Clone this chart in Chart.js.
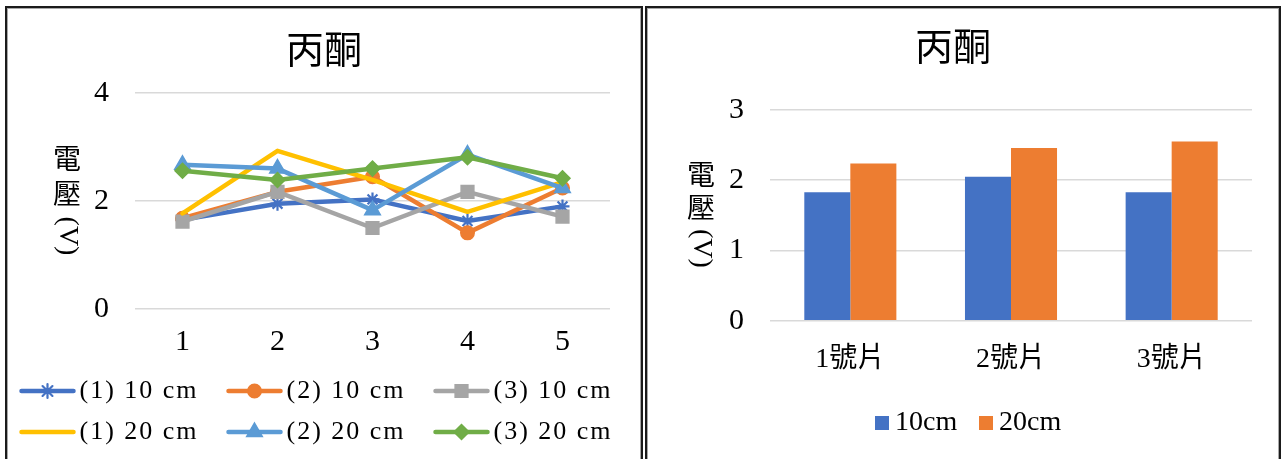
<!DOCTYPE html>
<html lang="zh-Hant">
<head>
<meta charset="utf-8">
<title>丙酮</title>
<script src="https://cdn.jsdelivr.net/npm/chart.js@4.4.1/dist/chart.umd.min.js"></script>
<style>
  html, body { margin: 0; padding: 0; background: #fff; width: 1282px; height: 459px; overflow: hidden; }
  .panel { position: absolute; top: 6px; height: 480px; border: 2px solid #1b1b1b; border-bottom: none; }
  .panel .inner { height: 100%; border: 1px solid #a8a8a8; border-bottom: none; }
  #p1 { left: 5px; width: 634px; }
  #p2 { left: 645px; width: 632px; }
  canvas { display: block; }
</style>
</head>
<body>
<div class="panel" id="p1"><div class="inner"><canvas id="lineChart" width="632" height="450"></canvas></div></div>
<div class="panel" id="p2"><div class="inner"><canvas id="barChart" width="630" height="450"></canvas></div></div>
<script>
// ---- data ----
const chartTitle = '丙酮';
const yAxisTitle = '電壓(V)';

const trialLabels = ['1', '2', '3', '4', '5'];
const lineTicks = [0, 2, 4];
const seriesNames = ['(1) 10 cm', '(2) 10 cm', '(3) 10 cm', '(1) 20 cm', '(2) 20 cm', '(3) 20 cm'];
const piece1At10 = [1.65, 1.95, 2.03, 1.63, 1.90];
const piece2At10 = [1.68, 2.17, 2.45, 1.41, 2.24];
const piece3At10 = [1.62, 2.17, 1.50, 2.17, 1.71];
const piece1At20 = [1.77, 2.93, 2.39, 1.80, 2.35];
const piece2At20 = [2.67, 2.60, 1.83, 2.86, 2.24];
const piece3At20 = [2.56, 2.39, 2.60, 2.81, 2.42];

const pieceLabels = ['1號片', '2號片', '3號片'];
const barTicks = [0, 1, 2, 3];
const barNames = ['10cm', '20cm'];
const mean10 = [1.83, 2.05, 1.83];
const mean20 = [2.24, 2.46, 2.55];

// ---- styling ----
const FONT = "'Liberation Serif', 'Noto Sans CJK TC', serif";
const INK = '#000';
const GRID = '#d9d9d9';
Chart.defaults.font.family = FONT;
Chart.defaults.color = INK;

// Vertical axis title: CJK characters upright, Latin runs turned clockwise.
const verticalTitle = {
  id: 'verticalTitle',
  afterDraw(chart, args, o) {
    const text = chart.options.scales.y.title.text;
    const ctx = chart.ctx, a = chart.chartArea;
    ctx.save();
    ctx.font = o.size + 'px ' + FONT;
    ctx.fillStyle = INK;
    const parts = [];
    for (const ch of text) {
      const cjk = /[\u2e80-\u9fff\uf900-\ufaff\uff00-\uffef]/.test(ch);
      const last = parts[parts.length - 1];
      if (!cjk && last && !last.cjk) last.text += ch;
      else parts.push({ text: ch, cjk });
    }
    parts.forEach(p => { p.len = p.cjk ? o.step : ctx.measureText(p.text).width + 2 * o.runPad; });
    const total = parts.reduce((s, p) => s + p.len, 0);
    const x = a.left - o.offset;
    let y = (a.top + a.bottom) / 2 - total / 2 + (o.shift || 0);
    ctx.textBaseline = 'middle';
    parts.forEach(p => {
      if (p.cjk) {
        ctx.textAlign = 'center';
        ctx.fillText(p.text, x, y + p.len / 2);
      } else {
        ctx.save();
        ctx.translate(x, y + o.runPad);
        ctx.rotate(Math.PI / 2);
        ctx.textAlign = 'left';
        ctx.fillText(p.text, 0, 0);
        ctx.restore();
      }
      y += p.len;
    });
    ctx.restore();
  }
};

// Series key drawn in a fixed grid under the plot.
const seriesKey = {
  id: 'seriesKey',
  afterDraw(chart, args, o) {
    const ctx = chart.ctx;
    ctx.save();
    ctx.font = o.fontSize + 'px ' + FONT;
    ctx.textBaseline = 'middle';
    ctx.textAlign = 'left';
    chart.data.datasets.forEach((ds, i) => {
      const col = i % o.columns, row = Math.floor(i / o.columns);
      const x = o.left + col * o.colStep;
      const y = o.top + row * o.rowStep;
      let textX;
      if (o.kind === 'line') {
        ctx.strokeStyle = ds.borderColor;
        ctx.lineWidth = ds.borderWidth;
        ctx.lineCap = 'round';
        ctx.beginPath();
        ctx.moveTo(x + 2, y);
        ctx.lineTo(x + o.symbolWidth - 2, y);
        ctx.stroke();
        if (ds.pointRadius > 0) {
          ctx.fillStyle = ds.pointBackgroundColor;
          ctx.strokeStyle = ds.pointBorderColor;
          ctx.lineWidth = ds.pointBorderWidth;
          Chart.helpers.drawPoint(ctx, {
            pointStyle: ds.pointStyle, radius: ds.pointRadius,
            borderWidth: ds.pointBorderWidth, rotation: 0
          }, x + o.symbolWidth / 2, y);
        }
        textX = x + o.symbolWidth + o.gap;
      } else {
        ctx.fillStyle = ds.backgroundColor;
        ctx.fillRect(x, y - o.box / 2, o.box, o.box);
        textX = x + o.box + o.gap;
      }
      ctx.fillStyle = INK;
      if (o.letterSpacing) ctx.letterSpacing = o.letterSpacing;
      ctx.fillText(ds.label, textX, y);
      if (o.letterSpacing) ctx.letterSpacing = '0px';
    });
    ctx.restore();
  }
};

const seriesData = [piece1At10, piece2At10, piece3At10, piece1At20, piece2At20, piece3At20];
const seriesColors = ['#4472C4', '#ED7D31', '#A5A5A5', '#FFC000', '#5B9BD5', '#70AD47'];
const seriesMarkers = ['star', 'circle', 'rect', false, 'triangle', 'rectRot'];
const markerRadius = [7, 6.75, 9, 0, 9, 7.5];

const lineDatasets = seriesNames.map((name, i) => ({
  label: name,
  data: seriesData[i],
  borderColor: seriesColors[i],
  backgroundColor: seriesColors[i],
  borderWidth: 4.5,
  borderJoinStyle: 'round',
  borderCapStyle: 'round',
  tension: 0,
  pointStyle: seriesMarkers[i] || 'circle',
  pointRadius: markerRadius[i],
  pointHoverRadius: markerRadius[i],
  pointBackgroundColor: seriesColors[i],
  pointBorderColor: seriesColors[i],
  pointBorderWidth: seriesMarkers[i] === 'star' ? 2.2 : 1.5,
  order: seriesNames.length - i
}));

new Chart(document.getElementById('lineChart'), {
  type: 'line',
  data: { labels: trialLabels, datasets: lineDatasets },
  options: {
    responsive: false,
    animation: false,
    layout: { padding: { left: 0, right: 0, top: 0, bottom: 84 } },
    plugins: {
      legend: { display: false },
      tooltip: { enabled: false },
      title: {
        display: true, text: chartTitle, color: INK,
        font: { family: FONT, size: 38, weight: 'normal' },
        padding: { top: 21.2, bottom: 17.2 }
      },
      verticalTitle: { size: 28, step: 35, runPad: 2, offset: 68 },
      seriesKey: {
        kind: 'line', columns: 3, left: 11.5, colStep: 207, top: 382, rowStep: 41,
        symbolWidth: 56, gap: 4, fontSize: 26, letterSpacing: '2px'
      }
    },
    scales: {
      x: {
        offset: true,
        grid: { display: false, drawTicks: false },
        border: { display: false },
        ticks: { color: INK, font: { family: FONT, size: 30 }, padding: 15 }
      },
      y: {
        min: 0, max: 4,
        afterBuildTicks: s => { s.ticks = lineTicks.map(v => ({ value: v })); },
        afterFit: s => { s.width = 127; },
        grid: { color: GRID, lineWidth: 1.5, drawTicks: false },
        border: { display: false },
        ticks: { color: INK, font: { family: FONT, size: 30 }, padding: 26 },
        title: { display: false, text: yAxisTitle }
      },
      gap: {
        type: 'linear', position: 'right', display: true,
        grid: { display: false, drawTicks: false },
        border: { display: false },
        ticks: { display: false },
        afterFit: s => { s.width = 30; }
      }
    }
  },
  plugins: [verticalTitle, seriesKey]
});

new Chart(document.getElementById('barChart'), {
  type: 'bar',
  data: {
    labels: pieceLabels,
    datasets: [
      { label: barNames[0], data: mean10, backgroundColor: '#4472C4' },
      { label: barNames[1], data: mean20, backgroundColor: '#ED7D31' }
    ]
  },
  options: {
    responsive: false,
    animation: false,
    categoryPercentage: 0.573,
    barPercentage: 1.0,
    layout: { padding: { left: 0, right: 20, top: 0, bottom: 59.7 } },
    plugins: {
      legend: { display: false },
      tooltip: { enabled: false },
      title: {
        display: true, text: chartTitle, color: INK,
        font: { family: FONT, size: 38, weight: 'normal' },
        padding: { top: 18.2, bottom: 37.2 }
      },
      verticalTitle: { size: 28, step: 33, runPad: 2, offset: 69 },
      seriesKey: {
        kind: 'box', columns: 2, left: 227, colStep: 104, top: 414, rowStep: 0,
        box: 14, gap: 6, fontSize: 28
      }
    },
    scales: {
      x: {
        grid: { display: false, drawTicks: false },
        border: { display: false },
        ticks: { color: INK, font: { family: FONT, size: 28 }, padding: 22.5 }
      },
      y: {
        min: 0, max: 3,
        afterBuildTicks: s => { s.ticks = barTicks.map(v => ({ value: v })); },
        afterFit: s => { s.width = 122; },
        grid: { color: GRID, lineWidth: 1.5, drawTicks: false },
        border: { display: false },
        ticks: { color: INK, font: { family: FONT, size: 30 }, padding: 26 },
        title: { display: false, text: yAxisTitle }
      },
      gap: {
        type: 'linear', position: 'right', display: true,
        grid: { display: false, drawTicks: false },
        border: { display: false },
        ticks: { display: false },
        afterFit: s => { s.width = 6; }
      }
    }
  },
  plugins: [verticalTitle, seriesKey]
});
</script>
</body>
</html>
